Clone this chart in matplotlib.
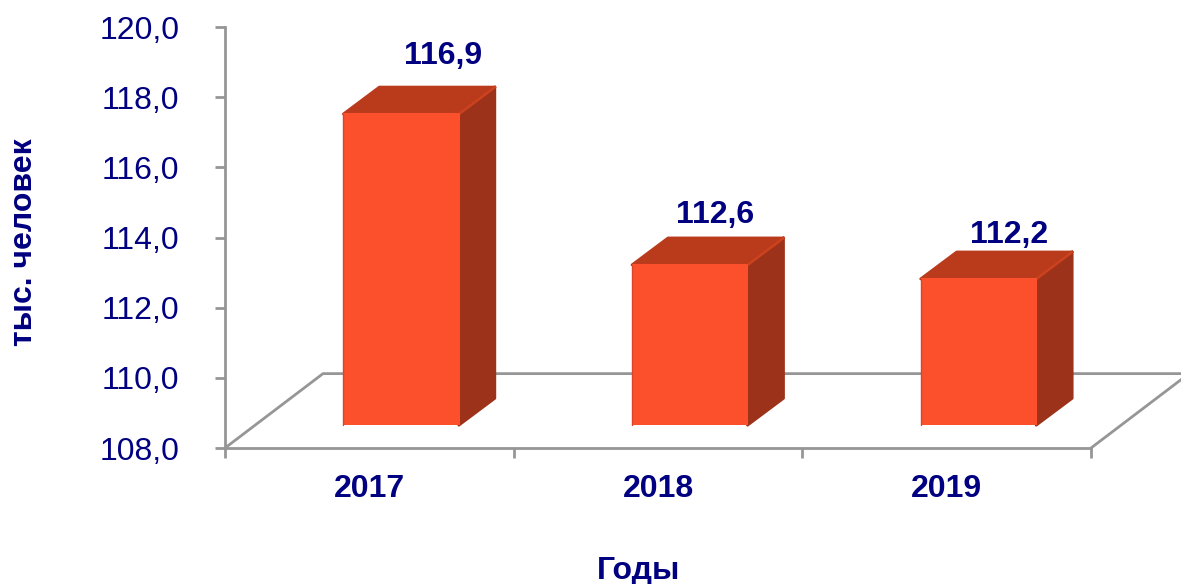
import matplotlib
matplotlib.use('Agg')
import matplotlib.pyplot as plt
import numpy as np
from matplotlib.ticker import FuncFormatter

years = ['2017', '2018', '2019']
values = [116.9, 112.6, 112.2]
value_labels = ['116,9', '112,6', '112,2']
y_ticks = [108, 110, 112, 114, 116, 118, 120]

plt.rcParams['font.family'] = ['Liberation Sans', 'DejaVu Sans']

W, H = 1181, 584
NAVY = '#000080'
GRID = '#969696'
FRONT = '#FC4F2B'
TOP = '#B93B1C'
SIDE = '#9B3219'
FS = 23

# depth of the fake 3d in data units
DX, DY = 36 / 288.67, 27 / 35.2
FLOOR_DX, FLOOR_Y = 98 / 288.67, 110.12
BASE_OFFSET = 0.65
BAR_W = 0.4
BAR_SHIFT = 0.11

# label offsets from the bar's top back edge, set by eye
label_dx = [0.082, 0.025, 0.045]
label_dy = [0.86, 0.63, 0.45]


def main():
    fig = plt.figure(figsize=(W / 100, H / 100), dpi=100)
    ax = fig.add_axes([225 / W, 1 - 448 / H, 866 / W, 421 / H])
    ax.set_xlim(0, 3)
    ax.set_ylim(108, 120)

    # floor
    ax.plot([0, FLOOR_DX, 3 + FLOOR_DX], [108, FLOOR_Y, FLOOR_Y], color=GRID, lw=2, clip_on=False, zorder=1)
    ax.plot([3, 3 + FLOOR_DX], [108, FLOOR_Y], color=GRID, lw=2, clip_on=False, zorder=1)

    pos = np.arange(len(values)) + 0.5
    for i, v in enumerate(values):
        x0 = pos[i] + BAR_SHIFT - BAR_W / 2
        x1 = x0 + BAR_W
        y0 = 108 + BASE_OFFSET
        y1 = v + BASE_OFFSET - 0.03
        ax.bar(x0 + BAR_W / 2, y1 - y0, BAR_W, bottom=y0, color=FRONT, zorder=4, clip_on=False)
        ax.fill([x0, x1, x1 + DX, x0 + DX], [y1, y1, y1 + DY, y1 + DY], color=TOP, lw=2, joinstyle='round', zorder=3, clip_on=False)
        ax.fill([x1, x1 + DX, x1 + DX, x1], [y0, y0 + DY, y1 + DY, y1], color=SIDE, lw=2, joinstyle='round', zorder=3, clip_on=False)
        # soft highlights and shade along the edges
        ax.plot([x0, x1, x1], [y1, y1, y0], color=FRONT, lw=1.5, zorder=5, clip_on=False, solid_joinstyle='round', solid_capstyle='butt')
        ax.plot([x0, x0], [y0, y1], color='#D9462A', lw=1, zorder=5, clip_on=False, solid_capstyle='round')
        ax.plot([x1, x1 + DX], [y1, y1 + DY], color='#CC421E', lw=2, zorder=3.5, clip_on=False)
        ax.text(pos[i] + BAR_SHIFT + DX / 2 + label_dx[i], y1 + DY + label_dy[i] + 0.03, value_labels[i], color=NAVY, fontsize=FS,
                fontweight='bold', ha='center', va='center', zorder=6)

    for s in ['top', 'right']:
        ax.spines[s].set_visible(False)
    for s in ['left', 'bottom']:
        ax.spines[s].set_color(GRID)
        ax.spines[s].set_linewidth(2)

    ax.set_yticks(y_ticks)
    ax.yaxis.set_major_formatter(FuncFormatter(lambda v, p: f'{v:.1f}'.replace('.', ',')))
    ax.tick_params(axis='y', length=7, width=2, color=GRID, pad=26, labelsize=FS, labelcolor=NAVY)
    ax.set_xticks([0, 1, 2, 3])
    ax.set_xticklabels([])
    ax.set_xticks(pos, minor=True)
    ax.set_xticklabels(years, minor=True, color=NAVY, fontsize=FS, fontweight='bold')
    ax.tick_params(axis='x', which='major', length=7, width=2, color=GRID)
    ax.tick_params(axis='x', which='minor', length=0, pad=18.5)

    fig.text(24 / W, 1 - 242 / H, 'тыс. человек', rotation=90, color=NAVY, fontsize=23, fontweight='bold', ha='center', va='center')
    fig.text(639 / W, 1 - 571 / H, 'Годы', color=NAVY, fontsize=FS, fontweight='bold', ha='center', va='center')

    fig.savefig('out.png', dpi=100)


if __name__ == "__main__":
    main()
